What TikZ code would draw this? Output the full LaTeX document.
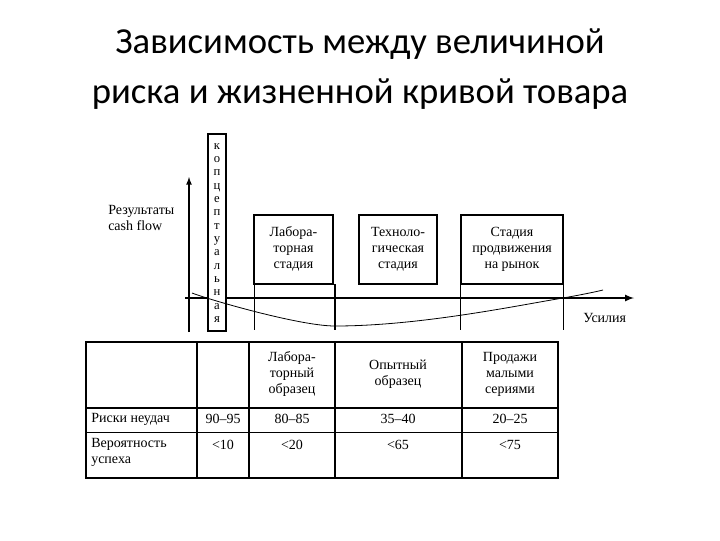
\documentclass[tikz,border=0pt]{standalone}
\usepackage{fontspec}
\setmainfont{Liberation Serif}
\newfontfamily\titlefont{Carlito}
\begin{document}
\begin{tikzpicture}[x=0.75pt,y=-0.75pt,
  lbl/.style={font=\fontsize{10.5}{12}\selectfont,align=center,inner sep=0pt},
  stagebox/.style={draw,line width=1pt},
  tick/.style={line width=0.6pt}]
\useasboundingbox (0,0) rectangle (720,540);
\node[font=\titlefont\fontsize{27.5}{37}\selectfont,align=center] (title) at (360,69) {Зависимость между величиной\\риска и жизненной кривой товара};
% axes
\coordinate (yb) at (189,332); \coordinate (yt) at (189,177);
\draw[line width=1pt,-latex] (yb) -- (yt);
\coordinate (xl) at (185,298); \coordinate (xr) at (634,298);
\draw[line width=1.3pt,-latex] (xl) -- (xr);
\node[lbl,align=left,anchor=west] (res) at (108,218) {Результаты\\cash flow};
\node[lbl,anchor=west] (eff) at (583,318) {Усилия};
% concept box
\draw[line width=0.8pt,fill=white] (208,134) rectangle (226,331);
\node[inner sep=0pt,align=center,font=\fontsize{9.5}{10}\selectfont] (concept) at (217,233) {к\\о\\п\\ц\\е\\п\\т\\у\\а\\л\\ь\\н\\а\\я};
% ticks
\draw[tick] (254,284) -- (254,330);
\draw[line width=1.2pt] (335,284) -- (335,330);
\draw[tick] (460,284) -- (460,330);
\draw[tick] (563,284) -- (563,330);
% curve
\draw[line width=0.6pt] (192,293) .. controls (210,300) and (300,326) .. (335,326) .. controls (420,326) and (520,305) .. (563,298) .. controls (580,295) and (595,292) .. (603,290);
% stage boxes
\draw[stagebox] (254,215) rectangle (333,284);
\draw[stagebox] (359,215) rectangle (437,284);
\draw[stagebox] (461,215) rectangle (563,284);
\node[lbl] (s1) at (293.5,249) {Лабора-\\торная\\стадия};
\node[lbl] (s2) at (398,249) {Техноло-\\гическая\\стадия};
\node[lbl] (s3) at (512,249) {Стадия\\продвижения\\на рынок};
% table
\draw[line width=1pt] (86,342) rectangle (558,478);
\foreach \x in {197,249,335,462} \draw[line width=0.8pt] (\x,342) -- (\x,478);
\draw[line width=0.8pt] (86,408) -- (558,408);
\draw[line width=0.6pt] (86,432) -- (558,432);
\node[lbl] (h1) at (292,374) {Лабора-\\торный\\образец};
\node[lbl] (h2) at (398,374) {Опытный\\образец};
\node[lbl] (h3) at (510,374) {Продажи\\малыми\\сериями};
\node[lbl,anchor=west] (r1) at (91,419) {Риски неудач};
\node[lbl] (a1) at (223,419) {90–95};
\node[lbl] (a2) at (292,419) {80–85};
\node[lbl] (a3) at (398,419) {35–40};
\node[lbl] (a4) at (510,419) {20–25};
\node[lbl,anchor=north west,align=left] (r2) at (91,438) {Вероятность\\успеха};
\node[lbl] (b1) at (223,445) {<10};
\node[lbl] (b2) at (292,445) {<20};
\node[lbl] (b3) at (398,445) {<65};
\node[lbl] (b4) at (510,445) {<75};
\end{tikzpicture}
\end{document}
